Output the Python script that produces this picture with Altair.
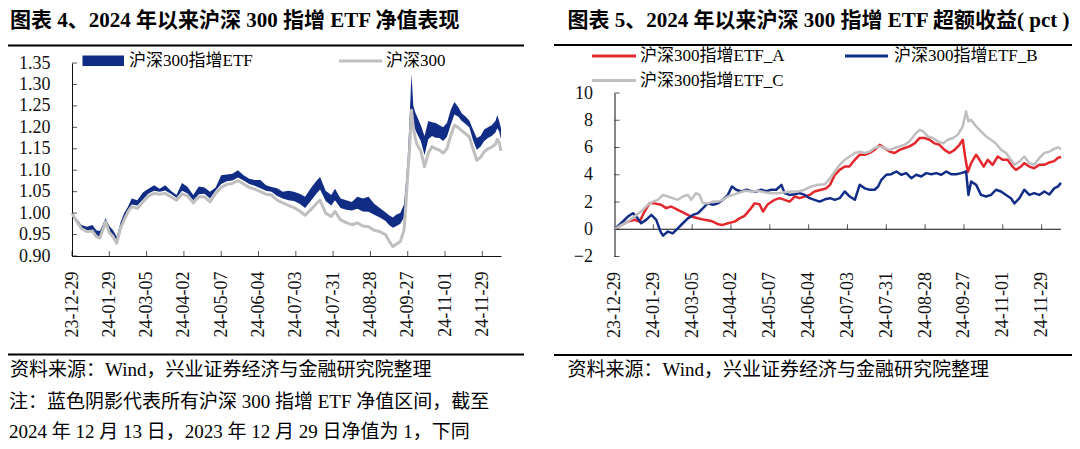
import altair as alt
import pandas as pd

# ---------------- data: left panel (net value, 23-12-29 = 1) ----------------
days_left = [0, 2, 5, 8, 11, 13, 15, 18, 20, 22, 24, 26, 28, 30, 32, 35, 38, 41, 44, 47,
             50, 53, 56, 59, 62, 65, 68, 71, 74, 77, 80, 83, 86, 89, 92, 95, 98, 101, 104, 107,
             110, 113, 116, 119, 122, 125, 128, 131, 133, 136, 139, 141, 144, 147, 150, 153, 156, 159, 162, 165,
             168, 170, 172, 174, 176, 178, 179, 180, 181, 182, 183, 184, 185, 187, 189, 191, 193, 195, 197, 199,
             201, 203, 205, 207, 209, 211, 213, 215, 217, 219, 221, 223, 225, 227, 228, 229, 230]
hs300 = [1.000, 0.984, 0.964, 0.957, 0.958, 0.945, 0.942, 0.980, 0.955, 0.945, 0.930, 0.965, 0.984, 1.003, 1.015, 1.011, 1.026, 1.040, 1.046, 1.044,
         1.046, 1.038, 1.030, 1.045, 1.040, 1.024, 1.038, 1.038, 1.026, 1.046, 1.060, 1.067, 1.069, 1.076, 1.068, 1.060, 1.056, 1.050, 1.044, 1.042,
         1.030, 1.024, 1.018, 1.013, 1.005, 0.995, 1.008, 1.022, 1.030, 1.000, 0.992, 1.004, 0.984, 0.978, 0.973, 0.977, 0.970, 0.968, 0.960, 0.957,
         0.950, 0.935, 0.922, 0.928, 0.934, 0.960, 1.020, 1.090, 1.150, 1.240, 1.200, 1.175, 1.160, 1.145, 1.108, 1.140, 1.155, 1.150, 1.147, 1.140,
         1.150, 1.180, 1.205, 1.200, 1.192, 1.185, 1.178, 1.150, 1.123, 1.130, 1.143, 1.150, 1.154, 1.160, 1.172, 1.165, 1.145]
etf_low = [1.000, 0.986, 0.966, 0.960, 0.961, 0.948, 0.946, 0.983, 0.958, 0.950, 0.936, 0.970, 0.990, 1.008, 1.020, 1.018, 1.032, 1.046, 1.052, 1.050,
           1.053, 1.045, 1.036, 1.052, 1.046, 1.030, 1.044, 1.045, 1.034, 1.053, 1.068, 1.074, 1.076, 1.083, 1.076, 1.068, 1.064, 1.058, 1.052, 1.050,
           1.040, 1.034, 1.030, 1.028, 1.022, 1.012, 1.028, 1.045, 1.055, 1.028, 1.018, 1.030, 1.012, 1.008, 1.006, 1.010, 1.004, 1.003, 0.996, 0.990,
           0.982, 0.972, 0.966, 0.970, 0.975, 0.990, 1.040, 1.100, 1.160, 1.240, 1.210, 1.195, 1.185, 1.168, 1.135, 1.172, 1.180, 1.176, 1.175, 1.168,
           1.178, 1.205, 1.230, 1.225, 1.215, 1.208, 1.200, 1.170, 1.148, 1.155, 1.168, 1.175, 1.180, 1.188, 1.198, 1.190, 1.172]
etf_high = [1.000, 0.990, 0.972, 0.968, 0.972, 0.960, 0.958, 0.988, 0.970, 0.960, 0.945, 0.978, 1.000, 1.015, 1.034, 1.030, 1.048, 1.057, 1.065, 1.057,
            1.065, 1.052, 1.042, 1.070, 1.061, 1.042, 1.062, 1.060, 1.050, 1.060, 1.088, 1.090, 1.092, 1.100, 1.088, 1.080, 1.077, 1.077, 1.065, 1.061,
            1.058, 1.050, 1.052, 1.050, 1.045, 1.038, 1.058, 1.075, 1.084, 1.052, 1.042, 1.057, 1.034, 1.030, 1.026, 1.038, 1.034, 1.038, 1.022, 1.012,
            1.002, 0.995, 0.990, 0.997, 1.000, 1.020, 1.070, 1.130, 1.220, 1.325, 1.250, 1.235, 1.225, 1.205, 1.180, 1.215, 1.212, 1.210, 1.205, 1.200,
            1.210, 1.240, 1.259, 1.248, 1.232, 1.225, 1.216, 1.195, 1.175, 1.180, 1.195, 1.200, 1.205, 1.215, 1.228, 1.215, 1.198]

# ---------------- data: right panel (excess return, pct) ----------------
days_a = [0, 3.4, 6.9, 10.3, 12.9, 15.5, 18, 20.6, 24, 26.6, 29.2, 32.6, 36, 39.5, 43, 46.4, 49.8, 53.3, 55.8, 58.4,
          61.9, 64.4, 67, 69.6, 72.2, 74.7, 76.5, 79, 82.5, 85, 87.6, 90.2, 92.8, 95.4, 98, 100.5, 103, 106.5, 109, 111,
          113.5, 116, 118.6, 121, 123.8, 126.3, 129, 131.5, 134, 136.6, 139, 141.7, 144.3, 146.9, 149.5, 152, 154.6, 157.2, 159.7, 162.3,
          164.9, 167.4, 170, 172.6, 175.2, 177.7, 179.4, 180.6, 182, 183.7, 186.3, 188, 190.2, 192.3, 194.8, 197.4, 200, 202.5, 205, 206.8,
          209.4, 211, 213.7, 216.2, 218.8, 221.4, 224, 226.5, 228.5, 230]
etf_a = [0, 0.3, 0.56, 0.7, 0.56, 1.3, 1.9, 1.9, 1.8, 1.55, 1.67, 1.42, 1.18, 0.93, 0.81, 0.69, 0.61, 0.37, 0.32, 0.44,
         0.56, 0.8, 0.98, 1.42, 1.9, 1.84, 1.3, 1.84, 2.16, 2.28, 2.16, 2.03, 2.4, 2.28, 2.4, 2.52, 2.77, 2.9, 3.0, 3.26,
         4.0, 4.36, 4.6, 4.6, 5.1, 5.47, 5.47, 5.6, 5.83, 6.2, 5.96, 5.7, 5.6, 5.83, 5.96, 6.08, 6.3, 6.7, 6.7, 6.57,
         6.3, 6.2, 5.83, 5.6, 5.83, 6.2, 6.57, 5.34, 4.2, 4.85, 5.47, 5.1, 4.6, 5.1, 4.73, 5.34, 5.1, 5.1, 4.6, 4.36,
         4.6, 4.85, 4.6, 4.48, 4.73, 4.73, 4.9, 5.0, 5.25, 5.3]

days_b = [0, 3.4, 6.9, 9.5, 12, 13.7, 16.3, 19, 21.5, 23.7, 25, 27.5, 30, 32.6, 35.2, 37.8, 40.4, 43, 45.5, 48,
          50.7, 53.3, 55.8, 58.4, 60.5, 62.7, 65.3, 67.9, 70.4, 73, 75.6, 78.2, 80.8, 83.3, 86, 87.6, 90.2, 92.8, 95.4, 98,
          100.5, 103, 105.7, 108.4, 111, 113.5, 116, 118.6, 121.2, 123.8, 126.3, 128.9, 131.5, 134, 135.8, 137.5, 140, 142.6, 145.2, 147.7,
          150.3, 152.9, 155.4, 158, 160.6, 163.2, 165.7, 168.3, 170.9, 173.4, 176, 178.6, 181.1, 182.3, 183.7, 186.3, 188.8, 191.4, 194, 196.5,
          199.1, 201.7, 204.2, 206, 208.6, 211.1, 213.7, 216.2, 218.8, 221.4, 224, 226.5, 228.5, 230]
etf_b = [0, 0.44, 0.93, 1.18, 0.8, 0.44, 0.69, 1.05, 0.69, -0.17, -0.47, -0.17, -0.3, 0.07, 0.44, 0.8, 1.05, 1.18, 1.54, 1.9,
         1.8, 1.9, 2.16, 2.52, 3.14, 2.9, 2.77, 2.9, 2.8, 2.77, 2.9, 2.8, 2.9, 2.9, 3.26, 2.65, 2.52, 2.57, 2.65, 2.52,
         2.28, 2.16, 2.03, 2.2, 2.28, 2.16, 2.28, 2.77, 2.4, 2.16, 3.26, 3.0, 2.9, 2.9, 3.14, 3.63, 4.0, 4.04, 4.24, 4.0,
         4.12, 3.75, 4.0, 3.87, 4.12, 4.04, 4.12, 4.0, 4.24, 4.04, 4.04, 4.12, 4.24, 2.52, 3.5, 3.26, 2.52, 2.4, 2.52, 2.9,
         2.77, 2.52, 2.28, 1.9, 2.28, 2.9, 2.52, 2.65, 2.52, 2.77, 2.55, 3.0, 3.15, 3.4]

days_c = [0, 3.4, 6.9, 10.3, 13.7, 17.2, 19.8, 22.3, 25, 27.5, 30, 32.6, 35.2, 37.8, 39.5, 42, 43.8, 45.5, 48, 50.7,
          53.3, 55.8, 58.4, 61, 63.6, 67, 70.4, 73.9, 77.3, 80.8, 84.2, 87.6, 91, 94.5, 98, 101.4, 104.8, 108.4, 111, 113.5,
          116, 118.6, 121.2, 123.8, 126.3, 128.9, 131.5, 134, 136.6, 139, 141.7, 144.3, 146.9, 149.5, 152, 154.6, 157.2, 159, 161.4, 164,
          166.6, 169.2, 171.8, 174.3, 176.9, 179.4, 181.1, 182.3, 183.7, 186.3, 188.8, 191.4, 194, 196.5, 199.1, 201.7, 204.2, 206, 208.6, 211.1,
          213.7, 216.2, 218.8, 221.4, 224, 226.5, 228.5, 230]
etf_c = [0, 0.3, 0.56, 0.93, 1.3, 1.8, 2.03, 2.16, 2.52, 2.4, 2.28, 2.16, 2.4, 2.52, 2.16, 2.65, 2.52, 1.9, 1.9, 2.03,
         2.03, 2.16, 2.4, 2.52, 2.65, 2.82, 2.77, 2.82, 2.72, 2.65, 2.65, 2.72, 2.77, 2.77, 2.9, 3.14, 3.26, 3.3, 3.75, 4.24,
         4.73, 5.1, 5.34, 5.6, 5.7, 5.6, 5.7, 5.96, 6.08, 5.96, 5.83, 5.96, 6.08, 6.2, 6.45, 6.94, 7.3, 7.18, 6.81, 6.7,
         6.45, 6.3, 6.57, 6.7, 6.94, 7.55, 8.65, 7.92, 8.04, 7.55, 7.18, 6.81, 6.57, 6.3, 5.83, 5.6, 5.1, 4.73, 4.97, 5.34,
         4.85, 4.73, 5.22, 5.6, 5.7, 5.9, 6.0, 5.9]

# ---------------- axis ticks / labels ----------------
tick_days = [0, 20, 40, 60, 80, 100, 120, 140, 160, 180, 200, 220]
tick_labels = ["23-12-29", "24-01-29", "24-03-05", "24-04-02", "24-05-07", "24-06-04",
               "24-07-03", "24-07-31", "24-08-28", "24-09-27", "24-11-01", "24-11-29"]
left_y_ticks = [0.90, 0.95, 1.00, 1.05, 1.10, 1.15, 1.20, 1.25, 1.30, 1.35]
right_y_ticks = [-2, 0, 2, 4, 6, 8, 10]

title_left = "图表 4、2024 年以来沪深 300 指增 ETF 净值表现"
title_right = "图表 5、2024 年以来沪深 300 指增 ETF 超额收益( pct )"
legend_left = ["沪深300指增ETF", "沪深300"]
legend_right = ["沪深300指增ETF_A", "沪深300指增ETF_B", "沪深300指增ETF_C"]
source_text = "资料来源：Wind，兴业证券经济与金融研究院整理"
note_1 = "注：蓝色阴影代表所有沪深 300 指增 ETF 净值区间，截至"
note_2 = "2024 年 12 月 13 日，2023 年 12 月 29 日净值为 1，下同"

# ---------------- styling ----------------
W, H = 1064, 433
FONT = "Liberation Serif, Noto Sans CJK SC"
NAVY = "#102c84"
GRAY = "#bfbfbf"
RED = "#e3272d"
BLUE = "#122d87"

L_X = alt.Scale(domain=[0, 230], range=[64, 493], nice=False, zero=False)
L_Y = alt.Scale(domain=[0.9, 1.35], range=[248, 55], nice=False, zero=False)
R_X = alt.Scale(domain=[0, 230], range=[606.5, 1053], nice=False, zero=False)
R_Y = alt.Scale(domain=[-2, 10], range=[248.5, 85], nice=False, zero=False)

label_expr = "[" + ",".join("'%s'" % s for s in tick_labels) + "][round(datum.value/20)]"

def x_axis(offset, domain):
    return alt.Axis(orient="bottom", offset=offset, values=tick_days, labelExpr=label_expr,
                    labelAngle=270, labelFont=FONT, labelFontSize=18, labelColor="#111",
                    labelPadding=15, ticks=False, domain=domain, domainColor="#111",
                    domainWidth=1, grid=False, title=None, labelOverlap=False, labelFlush=False)

def y_axis(offset, values, fmt):
    return alt.Axis(orient="left", offset=offset, values=values, format=fmt,
                    labelFont=FONT, labelFontSize=18, labelColor="#111", labelPadding=22,
                    ticks=False, domain=True, domainColor="#111", domainWidth=1, grid=False,
                    title=None, labelOverlap=False, labelFlush=False)

left_df = pd.DataFrame({"day": days_left, "hs300": hs300, "low": etf_low, "high": etf_high})
band = alt.Chart(left_df).mark_area(color=NAVY, opacity=1).encode(
    x=alt.X("day:Q", scale=L_X, axis=x_axis(248 - H, True)),
    y=alt.Y("low:Q", scale=L_Y, axis=y_axis(-64, left_y_ticks, ".2f")),
    y2="high:Q",
)
hs_line = alt.Chart(left_df).mark_line(color=GRAY, strokeWidth=3, strokeJoin="round").encode(
    x=alt.X("day:Q", scale=L_X, axis=None),
    y=alt.Y("hs300:Q", scale=L_Y, axis=None),
)
lx_ticks = alt.Chart(pd.DataFrame({"day": tick_days, "base": [0.9] * len(tick_days)})).mark_tick(
    orient="vertical", size=5, thickness=1, color="#111", yOffset=-2.5).encode(
    x=alt.X("day:Q", scale=L_X, axis=None), y=alt.Y("base:Q", scale=L_Y, axis=None))
ly_ticks = alt.Chart(pd.DataFrame({"v": left_y_ticks, "base": [0] * len(left_y_ticks)})).mark_tick(
    orient="horizontal", size=5, thickness=1, color="#111", xOffset=2.5).encode(
    x=alt.X("base:Q", scale=L_X, axis=None), y=alt.Y("v:Q", scale=L_Y, axis=None))

a_df = pd.DataFrame({"day": days_a, "v": etf_a})
b_df = pd.DataFrame({"day": days_b, "v": etf_b})
c_df = pd.DataFrame({"day": days_c, "v": etf_c})

zero_line = alt.Chart(pd.DataFrame({"a": [0], "b": [230], "z": [0]})).mark_rule(color="#111", strokeWidth=1).encode(
    x=alt.X("a:Q", scale=R_X, axis=None), x2="b:Q", y=alt.Y("z:Q", scale=R_Y, axis=None))
line_a = alt.Chart(a_df).mark_line(color=RED, strokeWidth=2.5, strokeJoin="round").encode(
    x=alt.X("day:Q", scale=R_X, axis=x_axis(248.5 - H, False)),
    y=alt.Y("v:Q", scale=R_Y, axis=y_axis(-606.5, right_y_ticks, "d")))
line_b = alt.Chart(b_df).mark_line(color=BLUE, strokeWidth=2.5, strokeJoin="round").encode(
    x=alt.X("day:Q", scale=R_X, axis=None), y=alt.Y("v:Q", scale=R_Y, axis=None))
line_c = alt.Chart(c_df).mark_line(color=GRAY, strokeWidth=2.5, strokeJoin="round").encode(
    x=alt.X("day:Q", scale=R_X, axis=None), y=alt.Y("v:Q", scale=R_Y, axis=None))
rx_ticks = alt.Chart(pd.DataFrame({"day": tick_days[1:], "base": [0] * (len(tick_days) - 1)})).mark_tick(
    orient="vertical", size=5, thickness=1, color="#111", yOffset=-2.5).encode(
    x=alt.X("day:Q", scale=R_X, axis=None), y=alt.Y("base:Q", scale=R_Y, axis=None))
ry_ticks = alt.Chart(pd.DataFrame({"v": right_y_ticks, "base": [0] * len(right_y_ticks)})).mark_tick(
    orient="horizontal", size=5, thickness=1, color="#111", xOffset=2.5).encode(
    x=alt.X("base:Q", scale=R_X, axis=None), y=alt.Y("v:Q", scale=R_Y, axis=None))

DUMMY = pd.DataFrame({"k": [0]})

def txt(s, x, y, size, weight="normal"):
    return alt.Chart(DUMMY).mark_text(text=s, align="left", baseline="middle", font=FONT,
                                      fontSize=size, fontWeight=weight, color="#000").encode(
        x=alt.value(x), y=alt.value(y))

def hline(x1, x2, y, color, w):
    return alt.Chart(DUMMY).mark_rule(color=color, strokeWidth=w).encode(
        x=alt.value(x1), x2=alt.value(x2), y=alt.value(y))

decor = [
    txt(title_left, 2, 13, 21, "bold"),
    txt(title_right, 559.5, 13, 21, "bold"),
    hline(0, 516, 37.5, "#000", 2),
    hline(546, 1064, 37, "#000", 2),
    hline(0, 516, 346.5, "#000", 2),
    hline(546, 1064, 347, "#000", 2),
    txt(source_text, 2, 362, 19),
    txt(source_text, 559.5, 362, 19),
    txt(note_1, 1, 394, 19),
    txt(note_2, 1, 424, 19),
    # left legend
    alt.Chart(DUMMY).mark_rect(color=NAVY).encode(x=alt.value(74.5), x2=alt.value(116),
                                                  y=alt.value(47.5), y2=alt.value(58)),
    txt(legend_left[0], 121, 53, 17),
    hline(331, 374, 53, GRAY, 3),
    txt(legend_left[1], 378, 53, 17),
    # right legend
    hline(584, 628, 48, RED, 3),
    txt(legend_right[0], 632, 48, 17),
    hline(837, 880, 48, BLUE, 3),
    txt(legend_right[1], 886, 48, 17),
    hline(584, 628, 72.5, GRAY, 3),
    txt(legend_right[2], 632, 72.5, 17),
]

chart = alt.layer(
    band, hs_line, lx_ticks, ly_ticks,
    zero_line, line_a, line_b, line_c, rx_ticks, ry_ticks,
    *decor
).resolve_scale(x="independent", y="independent").properties(
    width=W, height=H, autosize=alt.AutoSizeParams(type="none"), padding=0
).configure_view(stroke=None)

chart.save("out.html", embed_options={"renderer": "svg", "actions": False})
